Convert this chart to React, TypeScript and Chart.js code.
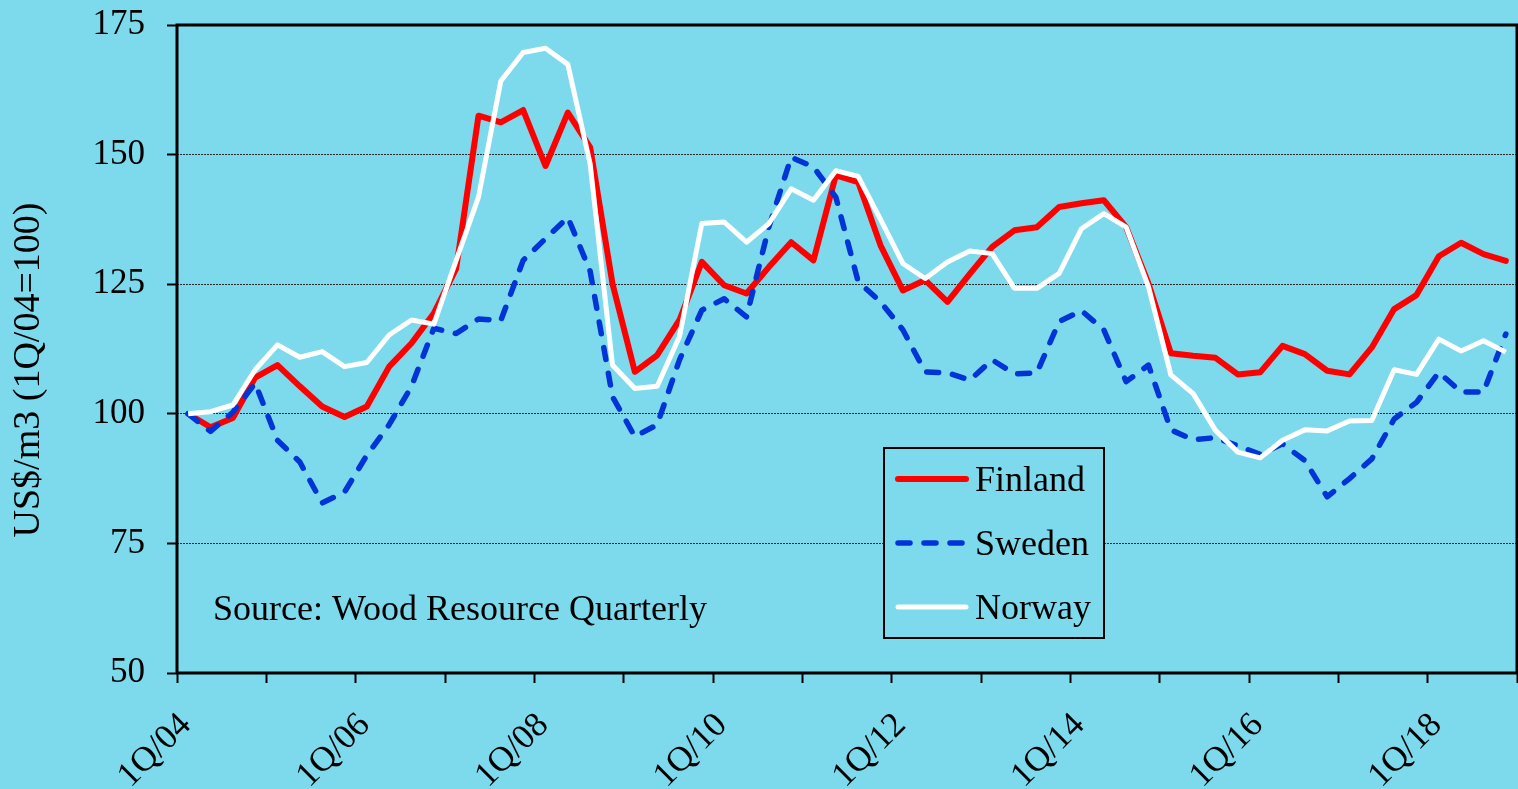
import React, { useEffect, useRef } from "react";
import { Chart, registerables } from "chart.js";

Chart.register(...registerables);

const categories: string[] = [];
for (let y = 4; y <= 18; y++) {
  for (let q = 1; q <= 4; q++) {
    categories.push(`${q}Q/${String(y).padStart(2, "0")}`);
  }
}

const tickLabels = ["1Q/04", "1Q/06", "1Q/08", "1Q/10", "1Q/12", "1Q/14", "1Q/16", "1Q/18"];

const finland = [
  100, 97.4, 99.2, 107, 109.4, 105.3, 101.4, 99.4, 101.4, 109.1,
  113.6, 119.4, 128, 157.5, 156.2, 158.6, 147.8, 158.1, 151.4, 125.1,
  108.1, 111.3, 118.1, 129.3, 124.8, 123.2, 128.3, 133.1, 129.6, 146,
  144.7, 132.5, 123.8, 125.8, 121.6, 127, 132.2, 135.4, 136, 139.9,
  140.6, 141.2, 136, 125.1, 111.7, 111.2, 110.8, 107.6, 108, 113.1,
  111.5, 108.3, 107.6, 112.8, 120.2, 122.9, 130.4, 133, 130.8, 129.5,
];

const sweden = [
  100, 96.6, 100.3, 105.9, 94.9, 90.7, 82.8, 84.9, 92, 97.9,
  105.3, 116.5, 115.5, 118.3, 118, 129.6, 133.8, 137.9, 127.5, 103.3,
  95.6, 97.9, 110.4, 120, 122.2, 118.7, 136, 149.5, 147.6, 141.8,
  125.5, 121.6, 116.2, 108.1, 107.9, 106.5, 110.4, 107.7, 107.9, 117.8,
  119.9, 116.2, 106.2, 109.4, 96.9, 95, 95.4, 93.8, 92.2, 94.2,
  91, 84, 87.5, 91.3, 99, 102.2, 108, 104.2, 104.2, 115.4,
];

const norway = [
  100, 100.4, 101.7, 108.5, 113.3, 110.9, 112, 109.1, 109.9, 115.2,
  118.1, 117.3, 129.6, 141.8, 164.2, 169.7, 170.5, 167.4, 148.2, 109.4,
  104.9, 105.3, 114.9, 136.7, 137, 133.1, 136.7, 143.4, 141.2, 146.9,
  145.8, 137.5, 129, 126.1, 129.3, 131.4, 130.9, 124.2, 124.2, 127.1,
  135.7, 138.6, 136, 124.5, 107.5, 103.9, 96.8, 92.6, 91.5, 94.9,
  96.9, 96.7, 98.6, 98.7, 108.5, 107.6, 114.4, 112.1, 114.1, 111.9,
];

const BG = "#7DD9EC";
const FONT = '"Liberation Serif", "Times New Roman", serif';
const RED = "#FF0000";
const BLUE = "#0034D6";
const WHITE = "#FFFFFF";

const legendItems = [
  { label: "Finland", color: RED, dash: [] as number[], width: 6 },
  { label: "Sweden", color: BLUE, dash: [12, 14], width: 5.5 },
  { label: "Norway", color: WHITE, dash: [] as number[], width: 5 },
];

const overlay = {
  id: "overlay",
  beforeDatasetsDraw(chart: any) {
    const { ctx, chartArea } = chart;
    const { left, right, top, bottom } = chartArea;
    ctx.save();
    ctx.strokeStyle = "#000";
    ctx.lineWidth = 3;
    ctx.beginPath();
    ctx.moveTo(left, bottom);
    ctx.lineTo(left, top);
    ctx.lineTo(right, top);
    ctx.lineTo(right, bottom);
    ctx.lineTo(left, bottom);
    ctx.stroke();
    ctx.restore();
  },
  afterDatasetsDraw(chart: any) {
    const { ctx } = chart;
    ctx.save();
    const bx = 884, by = 448, bw = 220, bh = 190;
    ctx.fillStyle = BG;
    ctx.fillRect(bx, by, bw, bh);
    ctx.strokeStyle = "#000";
    ctx.lineWidth = 2;
    ctx.strokeRect(bx, by, bw, bh);
    ctx.font = `36px ${FONT}`;
    ctx.textBaseline = "alphabetic";
    ctx.textAlign = "left";
    legendItems.forEach((it, i) => {
      const ly = 479 + i * 64;
      ctx.beginPath();
      ctx.strokeStyle = it.color;
      ctx.lineWidth = it.width;
      ctx.lineCap = "round";
      ctx.setLineDash(it.dash);
      ctx.moveTo(898, ly);
      ctx.lineTo(966, ly);
      ctx.stroke();
      ctx.setLineDash([]);
      ctx.fillStyle = "#000";
      ctx.fillText(it.label, 975, ly + 12);
    });
    ctx.fillStyle = "#000";
    ctx.fillText("Source: Wood Resource Quarterly", 213, 620);
    ctx.font = `38px ${FONT}`;
    ctx.translate(29, 370);
    ctx.rotate(-Math.PI / 2);
    ctx.textAlign = "center";
    ctx.textBaseline = "middle";
    ctx.fillText("US$/m3 (1Q/04=100)", 0, 0);
    ctx.restore();
  },
};

export default function App() {
  const ref = useRef<HTMLCanvasElement | null>(null);
  useEffect(() => {
    document.body.style.margin = "0";
    document.body.style.background = BG;
    const canvas = ref.current;
    if (!canvas) return;
    const toXY = (arr: number[]) => arr.map((v, i) => ({ x: i, y: v }));
    const chart = new Chart(canvas, {
      type: "line",
      data: {
        labels: categories,
        datasets: [
          {
            label: "Finland",
            data: toXY(finland),
            borderColor: RED,
            borderWidth: 6,
            pointRadius: 0,
            borderJoinStyle: "round",
            borderCapStyle: "round",
            tension: 0,
            order: 3,
          },
          {
            label: "Sweden",
            data: toXY(sweden),
            borderColor: BLUE,
            borderWidth: 5.5,
            borderDash: [12, 14],
            borderCapStyle: "round",
            borderJoinStyle: "round",
            pointRadius: 0,
            tension: 0,
            order: 2,
          },
          {
            label: "Norway",
            data: toXY(norway),
            borderColor: WHITE,
            borderWidth: 5,
            pointRadius: 0,
            borderJoinStyle: "round",
            tension: 0,
            order: 1,
          },
        ],
      },
      options: {
        animation: false,
        responsive: false,
        devicePixelRatio: 1,
        layout: { padding: { top: 25, right: 1, left: 0, bottom: 0 } },
        plugins: {
          legend: { display: false },
          tooltip: { enabled: false },
          title: { display: false },
        },
        scales: {
          x: {
            type: "linear",
            min: -0.5,
            max: categories.length - 0.5,
            afterBuildTicks: (scale: any) => {
              const t: any[] = [];
              for (let v = -0.5; v <= categories.length - 0.5; v += 4) t.push({ value: v });
              scale.ticks = t;
            },
            afterFit: (scale: any) => {
              scale.height = 116;
              scale.paddingLeft = 0;
              scale.paddingRight = 0;
            },
            border: { display: false },
            grid: {
              drawOnChartArea: false,
              drawTicks: true,
              tickLength: 10,
              tickColor: "#000",
              tickWidth: 2,
              color: "#000",
            },
            ticks: {
              autoSkip: false,
              minRotation: 45,
              maxRotation: 45,
              padding: 22,
              labelOffset: 9,
              color: "#000",
              font: { family: FONT, size: 35 },
              callback: (value: any) => {
                const idx = Math.round(Number(value) + 0.5);
                const lbl = categories[idx];
                return lbl && tickLabels.includes(lbl) ? lbl : "";
              },
            },
          },
          y: {
            min: 50,
            max: 175,
            afterFit: (scale: any) => {
              scale.width = 177;
              scale.paddingTop = 0;
              scale.paddingBottom = 0;
            },
            border: { display: false, dash: [2, 1] },
            grid: {
              drawTicks: true,
              tickLength: 10,
              tickColor: "#000",
              tickWidth: 2,
              tickBorderDash: [],
              borderDash: [2, 1],
              lineWidth: 1,
              color: (c: any) =>
                c.tick && (c.tick.value === 50 || c.tick.value === 175) ? "rgba(0,0,0,0)" : "#2a2a2a",
            } as any,
            ticks: {
              stepSize: 25,
              padding: 22,
              color: "#000",
              font: { family: FONT, size: 35 },
            },
          },
        },
      },
      plugins: [overlay],
    } as any);
    return () => chart.destroy();
  }, []);
  return (
    <div style={{ width: 1518, height: 789, background: BG }}>
      <canvas ref={ref} width={1518} height={789} style={{ display: "block" }} />
    </div>
  );
}
